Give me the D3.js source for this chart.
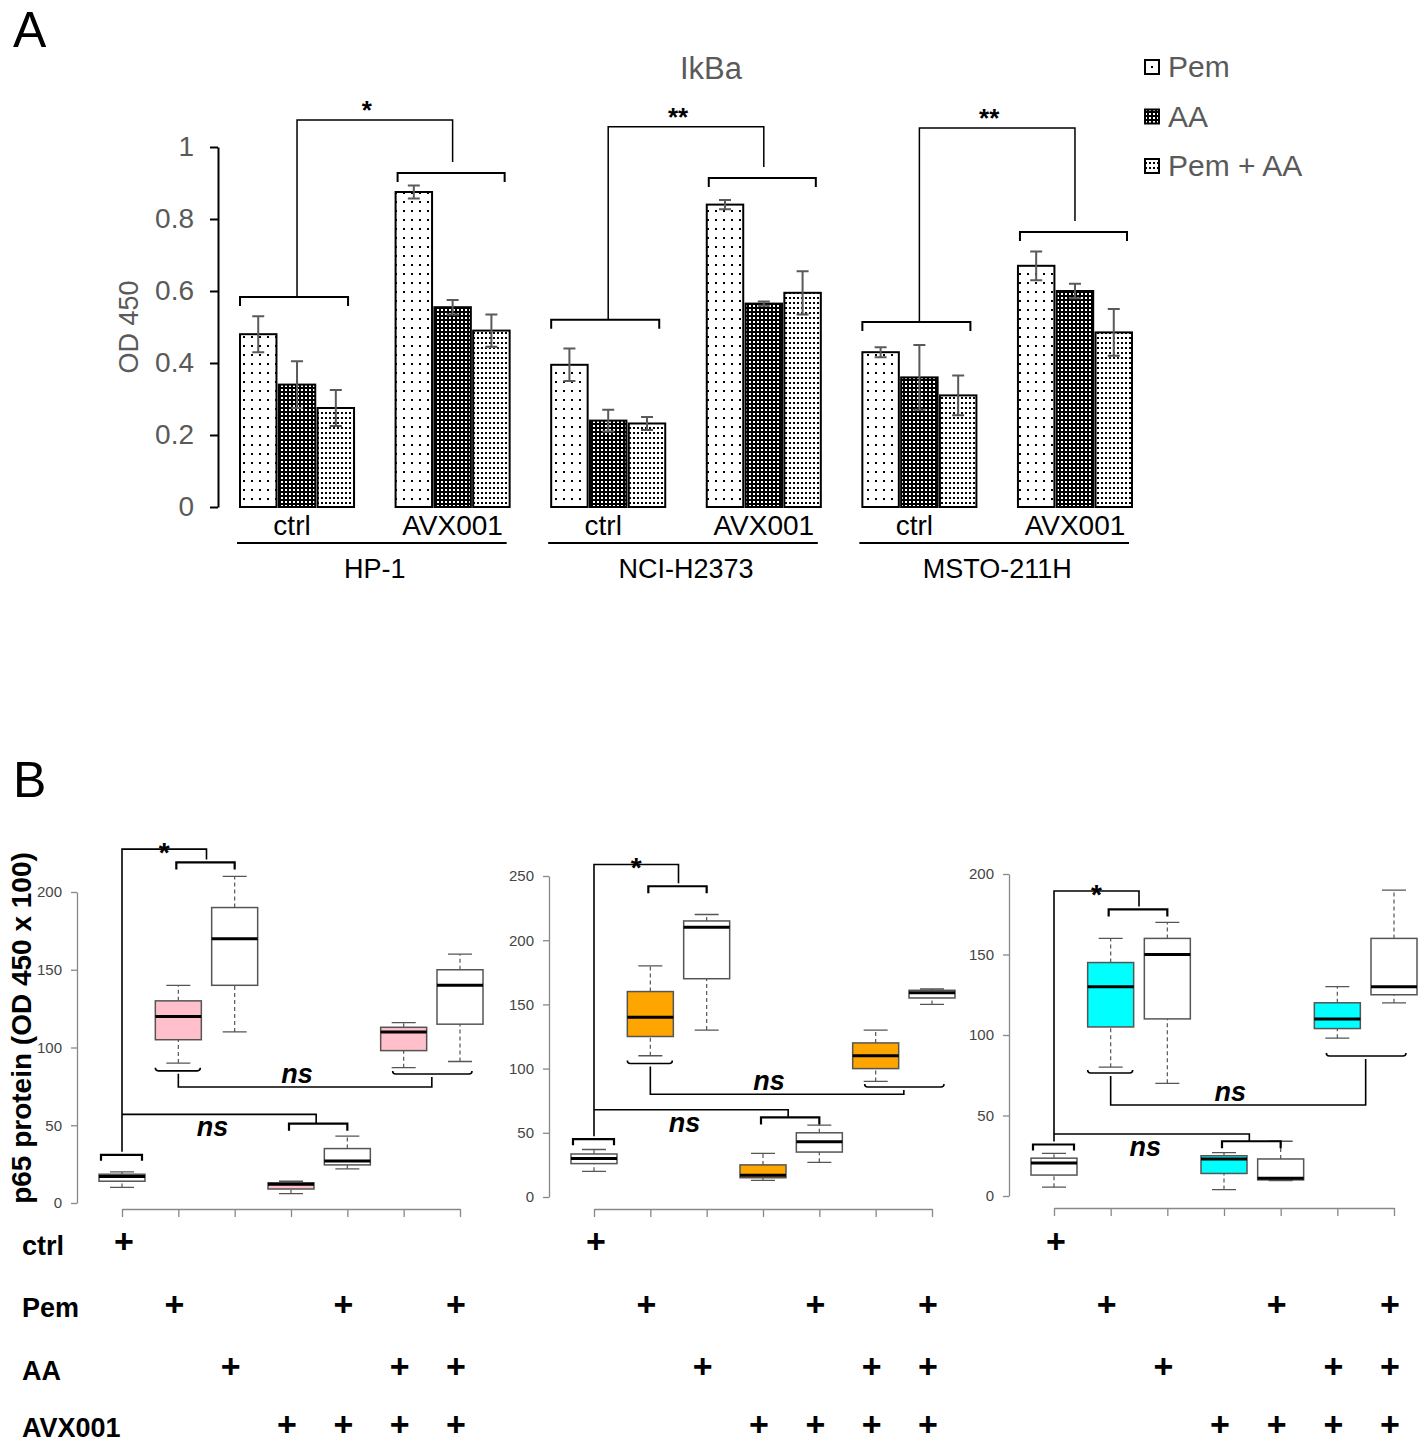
<!DOCTYPE html>
<html><head><meta charset="utf-8">
<script src="https://cdn.jsdelivr.net/npm/d3@7"></script>
<style>
body{margin:0;background:#fff}
svg{display:block}
text{font-family:"Liberation Sans",Arial,Helvetica,sans-serif}
</style>
</head><body>
<svg id="chart" width="1424" height="1444"></svg>
<script>
// ---------------- Panel A data ----------------
const cellLines = ["HP-1", "NCI-H2373", "MSTO-211H"];
const treatments = ["ctrl", "AVX001"];
const seriesA = ["Pem", "AA", "Pem + AA"];
// order: HP-1 ctrl, HP-1 AVX001, NCI ctrl, NCI AVX001, MSTO ctrl, MSTO AVX001
const pemMeans   = [0.480, 0.875, 0.395, 0.840, 0.430, 0.670];
const aaMeans    = [0.340, 0.555, 0.240, 0.565, 0.360, 0.600];
const pemAaMeans = [0.275, 0.490, 0.232, 0.595, 0.310, 0.485];
const pemErr     = [0.050, 0.018, 0.045, 0.013, 0.014, 0.040];
const aaErr      = [0.065, 0.020, 0.030, 0.006, 0.090, 0.020];
const pemAaErr   = [0.050, 0.045, 0.018, 0.060, 0.055, 0.065];
const yTicksA = [0, 0.2, 0.4, 0.6, 0.8, 1];
const yTickLabelsA = ["0", "0.2", "0.4", "0.6", "0.8", "1"];
const sigLabelsA = ["*", "**", "**"];
const ctrlBracketA = [0.583, 0.520, 0.514];
const avxBracketA  = [0.928, 0.914, 0.764];
const topBracketA  = [1.075, 1.056, 1.053];

// ---------------- Panel B data ----------------
const conditions = ["ctrl", "Pem", "AA", "AVX001", "Pem+AVX001", "AA+AVX001", "Pem+AA+AVX001"];
// [low whisker, Q1, median, Q3, high whisker]
const hp1Box = [[10,14,17,18.5,20],[90,105,120,130,140],[110,140,170,190,210],[6,9,12,13,14],[22,24.5,27,35,43],[87,98,110,113,116],[91,115,140,150,160]];
const nciBox = [[20,26,30,33.5,37],[110,125,140,160,180],[130,170,210,215,220],[13,15,17,25,34],[27,35,43,50,56],[90,100,110,120,130],[150,155,159,161,162]];
const mstoBox = [[5.5,13,20.5,23.5,26.5],[80,105,130,145,160],[70,110,150,160,170],[4,14,23,25,27],[9.5,10,11,23,34],[98,104,110,120,130],[120,125,130,160,190]];
const yTicksB1 = [0, 50, 100, 150, 200];
const yTicksB2 = [0, 50, 100, 150, 200, 250];
const yTicksB3 = [0, 50, 100, 150, 200];
const tableRows = ["ctrl", "Pem", "AA", "AVX001"];
const tableCtrl = [1,0,0,0,0,0,0];
const tablePem  = [0,1,0,0,1,0,1];
const tableAA   = [0,0,1,0,0,1,1];
const tableAVX  = [0,0,0,1,1,1,1];
// significance bracket levels (data units): star top, pair(Pem,AA), ctrl, ns-low top, pair(AVX, Pem+AVX), ns-up inv under Pem, ns-up bottom, inv under (AA+AVX, all)
const sigB1 = [227.6, 219, 31, 57, 51, 85, 74.6, 83];
const sigB2 = [259, 242, 45, 68, 62, 104, 80, 85.7];
const sigB3 = [189.4, 178, 32, 38.5, 34, 76.4, 56.5, 87];

// ---------------- drawing ----------------
const svg = d3.select("#chart");
const defs = svg.append("defs");
function pat(id, w, h, bg, fg, dots) {
  const p = defs.append("pattern").attr("id", id).attr("patternUnits", "userSpaceOnUse").attr("width", w).attr("height", h);
  p.append("rect").attr("width", w).attr("height", h).attr("fill", bg);
  dots.forEach(d => p.append("rect").attr("x", d[0]).attr("y", d[1]).attr("width", d[2]).attr("height", d[2]).attr("fill", fg));
}
pat("pPem", 8, 9, "#fff", "#000", [[3,3,2]]);
pat("pAA", 4, 4, "#000", "#fff", [[1,1,2]]);
pat("pPemAA", 4, 5, "#fff", "#000", [[1,2,2]]);
const patIds = ["pPem", "pAA", "pPemAA"];
const gray = "#5a5a5a";

// Panel letters
svg.append("text").attr("x", 13).attr("y", 47).attr("font-size", 50).text("A");
svg.append("text").attr("x", 13).attr("y", 797).attr("font-size", 50).text("B");

// ---- Panel A ----
const groupKeys = [];
cellLines.forEach(c => treatments.forEach(t => groupKeys.push(c + "|" + t)));
const yA = d3.scaleLinear().domain([0, 1]).range([507, 147]);
const xA = d3.scaleBand().domain(groupKeys).range([240, 1132]).paddingInner(0.267).paddingOuter(0);
const xS = d3.scaleBand().domain(seriesA).range([0, xA.bandwidth()]).paddingInner(0.06);
const meansA = [pemMeans, aaMeans, pemAaMeans];
const errA = [pemErr, aaErr, pemAaErr];

const gA = svg.append("g");
const axA = gA.append("g").attr("transform", "translate(218,0)")
  .call(d3.axisLeft(yA).tickValues(yTicksA).tickFormat((d, i) => yTickLabelsA[i]).tickSize(8).tickSizeOuter(0).tickPadding(16));
axA.select(".domain").attr("stroke", "#000").attr("stroke-width", 2);
axA.selectAll(".tick line").attr("stroke", "#000").attr("stroke-width", 2);
axA.selectAll(".tick text").attr("font-size", 28).attr("fill", gray).attr("font-family", "Liberation Sans, Arial, sans-serif");

gA.append("text").attr("transform", "translate(138," + yA(0.5) + ") rotate(-90)")
  .attr("text-anchor", "middle").attr("font-size", 27).attr("fill", gray).text("OD 450");
gA.append("text").attr("x", 711).attr("y", 79).attr("text-anchor", "middle").attr("font-size", 31).attr("fill", gray).text("IkBa");

groupKeys.forEach((k, gi) => {
  const g0 = xA(k);
  seriesA.forEach((s, si) => {
    const v = meansA[si][gi], e = errA[si][gi];
    const x = g0 + xS(s), w = xS.bandwidth();
    gA.append("rect").attr("x", x).attr("y", yA(v)).attr("width", w).attr("height", yA(0) - yA(v))
      .attr("fill", "url(#" + patIds[si] + ")").attr("stroke", "#000").attr("stroke-width", 2);
    const cx = x + w / 2;
    gA.append("path").attr("d", `M${cx},${yA(v + e)}V${yA(v - e)}M${cx - 6},${yA(v + e)}H${cx + 6}M${cx - 6},${yA(v - e)}H${cx + 6}`)
      .attr("stroke", gray).attr("stroke-width", 2).attr("fill", "none");
  });
  const t = k.split("|")[1];
  gA.append("text").attr("x", g0 + xA.bandwidth() / 2 - (t === "ctrl" ? 5 : 0)).attr("y", 535).attr("text-anchor", "middle")
    .attr("font-size", 28).attr("fill", "#000").text(t);
});
cellLines.forEach((c, ci) => {
  const k1 = groupKeys[ci * 2], k2 = groupKeys[ci * 2 + 1];
  const x1 = xA(k1), x2 = xA(k2) + xA.bandwidth();
  gA.append("line").attr("x1", x1 - 3).attr("x2", x2 - 3).attr("y1", 543).attr("y2", 543).attr("stroke", "#000").attr("stroke-width", 2);
  gA.append("text").attr("x", (x1 + x2) / 2).attr("y", 578).attr("text-anchor", "middle").attr("font-size", 27).text(c);
  // significance brackets
  const bw = xA.bandwidth();
  const cA = x1 + bw / 2, cB = xA(k2) + bw / 2;
  const yc = yA(ctrlBracketA[ci]), yv = yA(avxBracketA[ci]), yt = yA(topBracketA[ci]);
  const br = (a, b, y) => `M${a},${y + 9}V${y}H${b}V${y + 9}`;
  gA.append("path").attr("d", br(x1, x1 + bw - 6, yc)).attr("stroke", "#000").attr("stroke-width", 2).attr("fill", "none");
  gA.append("path").attr("d", br(xA(k2) + 2, xA(k2) + bw - 5, yv)).attr("stroke", "#000").attr("stroke-width", 2).attr("fill", "none");
  gA.append("path").attr("d", `M${cA},${yc}V${yt}H${cB}V${yv - 11}`).attr("stroke", "#000").attr("stroke-width", 1.5).attr("fill", "none");
  gA.append("text").attr("x", (cA + cB) / 2 - 8).attr("y", yt - 1).attr("text-anchor", "middle")
    .attr("font-size", 26).attr("font-weight", "bold").text(sigLabelsA[ci]);
});
// legend
seriesA.forEach((s, i) => {
  const ly = 67 + i * 49.5;
  gA.append("rect").attr("x", 1145).attr("y", ly - 7).attr("width", 14).attr("height", 14)
    .attr("fill", i === 0 ? "#fff" : "url(#" + patIds[i] + ")").attr("stroke", "#000").attr("stroke-width", 2);
  if (i === 0) gA.append("rect").attr("x", 1151).attr("y", ly - 1).attr("width", 2).attr("height", 2).attr("fill", "#000");
  gA.append("text").attr("x", 1168).attr("y", ly + 10).attr("font-size", 30).attr("fill", gray).text(s);
});

// ---- Panel B ----
const panels = [
  {box: hp1Box, ticks: yTicksB1, sig: sigB1, color: "#FFC0CB", x: [122, 460], y: [1203, 892], axisX: 77, xAxisY: 1209},
  {box: nciBox, ticks: yTicksB2, sig: sigB2, color: "#FFA500", x: [594, 932], y: [1197, 876], axisX: 549, xAxisY: 1209},
  {box: mstoBox, ticks: yTicksB3, sig: sigB3, color: "#00FFFF", x: [1054, 1394], y: [1196, 874], axisX: 1009, xAxisY: 1208}
];
const tableData = [tableCtrl, tablePem, tableAA, tableAVX];
const rowY = [1241, 1304, 1366, 1424];

panels.forEach((P, pi) => {
  const g = svg.append("g");
  const x = d3.scalePoint().domain(conditions).range(P.x);
  const y = d3.scaleLinear().domain([0, d3.max(P.ticks)]).range(P.y);
  const ay = g.append("g").attr("transform", `translate(${P.axisX},0)`)
    .call(d3.axisLeft(y).tickValues(P.ticks).tickSize(6).tickSizeOuter(0).tickPadding(9));
  ay.selectAll(".domain, .tick line").attr("stroke", "#888").attr("stroke-width", 1.3);
  ay.selectAll(".tick text").attr("font-size", 15).attr("fill", "#444").attr("font-family", "Liberation Sans, Arial, sans-serif");
  const ax = g.append("g").attr("transform", `translate(0,${P.xAxisY})`)
    .call(d3.axisBottom(x).tickFormat("").tickSize(8).tickSizeOuter(0));
  ax.selectAll(".domain, .tick line").attr("stroke", "#888").attr("stroke-width", 1.3);

  const bw = 46;
  P.box.forEach((b, i) => {
    const cx = x(conditions[i]);
    const fill = (i === 1 || i === 3 || i === 5) ? P.color : "#fff";
    g.append("path").attr("d", `M${cx},${y(b[0])}V${y(b[1])}M${cx},${y(b[3])}V${y(b[4])}`)
      .attr("stroke", "#555").attr("stroke-width", 1.2).attr("stroke-dasharray", "4,3").attr("fill", "none");
    g.append("path").attr("d", `M${cx - 12},${y(b[0])}H${cx + 12}M${cx - 12},${y(b[4])}H${cx + 12}`)
      .attr("stroke", "#555").attr("stroke-width", 1.3);
    g.append("rect").attr("x", cx - bw / 2).attr("y", y(b[3])).attr("width", bw).attr("height", y(b[1]) - y(b[3]))
      .attr("fill", fill).attr("stroke", "#555").attr("stroke-width", 1.5);
    g.append("line").attr("x1", cx - bw / 2).attr("x2", cx + bw / 2).attr("y1", y(b[2])).attr("y2", y(b[2]))
      .attr("stroke", "#000").attr("stroke-width", 3);
  });

  // significance brackets
  const s = P.sig;
  const c = i => x(conditions[i]);
  const line = d => g.append("path").attr("d", d).attr("stroke", "#000").attr("stroke-width", 1.6).attr("fill", "none");
  const thick = d => g.append("path").attr("d", d).attr("stroke", "#000").attr("stroke-width", 2.2).attr("fill", "none");
  const down = (a, b, yy, t) => `M${a},${yy + t}V${yy}H${b}V${yy + t}`;
  const up = (a, b, yy, t) => `M${a},${yy - t}Q${a},${yy} ${a + 3},${yy}H${b - 3}Q${b},${yy} ${b},${yy - t}`;
  const mid12 = (c(1) + c(2)) / 2, mid34 = (c(3) + c(4)) / 2, mid56 = (c(5) + c(6)) / 2;
  // star bracket
  line(`M${c(0)},${y(s[2]) - 3}V${y(s[0])}H${mid12}V${y(s[1]) - 3}`);
  thick(down(c(1) - 2, c(2), y(s[1]), 7));
  thick(down(c(0) - 21, c(0) + 20, y(s[2]), 6));
  g.append("text").attr("x", (c(0) + mid12) / 2).attr("y", y(s[0]) + 13).attr("text-anchor", "middle")
    .attr("font-size", 28).attr("font-weight", "bold").text("*");
  // lower ns
  line(`M${c(0)},${y(s[3])}H${mid34 - 3}V${y(s[4])}`);
  thick(down(c(3) - 2, c(4), y(s[4]), 7));
  g.append("text").attr("x", (c(0) + mid34) / 2 - 8).attr("y", y(s[3]) + 22).attr("text-anchor", "middle")
    .attr("font-size", 27).attr("font-weight", "bold").attr("font-style", "italic").text("ns");
  // upper ns
  line(up(c(1) - 23, c(1) + 22, y(s[5]), 3));
  line(`M${c(1)},${y(s[5]) + 3}V${y(s[6])}H${mid56}V${y(s[7]) + 3}`);
  line(up(c(5) - 11, c(6) + 12, y(s[7]), 3));
  g.append("text").attr("x", (c(1) + mid56) / 2 - 8).attr("y", y(s[6]) - 4).attr("text-anchor", "middle")
    .attr("font-size", 27).attr("font-weight", "bold").attr("font-style", "italic").text("ns");

  // table of "+"
  tableData.forEach((row, ri) => {
    row.forEach((v, ci) => {
      if (v) g.append("text").attr("x", x(conditions[ci]) + (ci === 0 ? 2 : -4)).attr("y", rowY[ri]).attr("dy", "0.35em")
        .attr("text-anchor", "middle").attr("font-size", 34).attr("font-weight", "bold").text("+");
    });
  });
});
// table row labels
const rowBase = [1255, 1317, 1380, 1437];
tableRows.forEach((r, i) => {
  svg.append("text").attr("x", 22).attr("y", rowBase[i]).attr("font-size", 27).attr("font-weight", "bold").text(r);
});
svg.append("text").attr("transform", "translate(31,1028) rotate(-90)").attr("text-anchor", "middle")
  .attr("font-size", 28).attr("font-weight", "bold").text("p65 protein (OD 450 x 100)");
</script>
</body></html>
